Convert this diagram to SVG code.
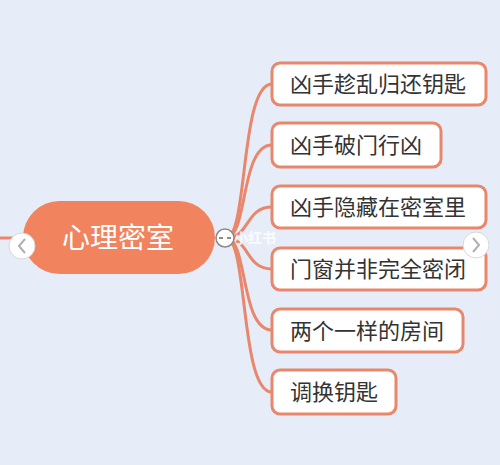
<svg xmlns="http://www.w3.org/2000/svg" width="500" height="465" viewBox="0 0 500 465">
<style>
.node rect{fill:#ffffff;stroke:#e8876b;stroke-width:3}
.node text{font-family:"Noto Sans CJK SC","Noto Sans",sans-serif;font-size:22px;fill:#333333}
.conn path{fill:none;stroke:#e8876b;stroke-width:3}
.nav circle{fill:#ffffff;stroke:#d8d8d8;stroke-width:1}
.nav path{fill:none;stroke:#b0b0b0;stroke-width:2}
</style>
<rect width="500" height="465" fill="#e7edf8"/>
<g class="conn">
<path d="M0,238 L30,238"/>
<path d="M226,238 C248,238 240,84 272,84"/>
<path d="M226,238 C248,238 240,145 272,145"/>
<path d="M226,238 C250,238 245,207 272,207"/>
<path d="M226,238 C250,238 245,269 272,269"/>
<path d="M226,238 C248,238 240,330 272,330"/>
<path d="M226,238 C248,238 240,392 272,392"/>
</g>
<g id="root">
<rect x="23" y="201" width="192" height="73" rx="36.5" fill="#f1835e"/>
<text x="118" y="248" text-anchor="middle" font-family="Noto Sans CJK SC,sans-serif" font-size="28" fill="#ffffff">心理密室</text>
</g>
<g id="collapse">
<circle cx="225" cy="238" r="9" fill="#ffffff" stroke="#8a8a8a" stroke-width="1.5"/>
<path d="M219,238 h4 M227,238 h4" stroke="#666" stroke-width="1.5"/>
</g>
<g id="n1" class="node"><rect x="272" y="63" width="214" height="42" rx="8"/><text x="290" y="92">凶手趁乱归还钥匙</text></g>
<g id="n2" class="node"><rect x="272" y="123" width="169" height="44" rx="8"/><text x="290" y="153">凶手破门行凶</text></g>
<g id="n3" class="node"><rect x="272" y="186" width="214" height="42" rx="8"/><text x="290" y="215">凶手隐藏在密室里</text></g>
<g id="n4" class="node"><rect x="272" y="248" width="214" height="42" rx="8"/><text x="290" y="277">门窗并非完全密闭</text></g>
<g id="n5" class="node"><rect x="272" y="309" width="191" height="43" rx="8"/><text x="290" y="339">两个一样的房间</text></g>
<g id="n6" class="node"><rect x="272" y="370" width="124" height="44" rx="8"/><text x="290" y="400">调换钥匙</text></g>
<text x="234" y="243" font-family="Noto Sans CJK SC,sans-serif" font-size="14" font-weight="bold" fill="#ffffff" fill-opacity="0.8">小红书</text>
<g class="nav">
<circle cx="22" cy="246" r="13"/><path d="M25,239 L19,246 L25,253"/>
<circle cx="476" cy="245" r="13"/><path d="M473,238 L479,245 L473,252"/>
</g>
</svg>
